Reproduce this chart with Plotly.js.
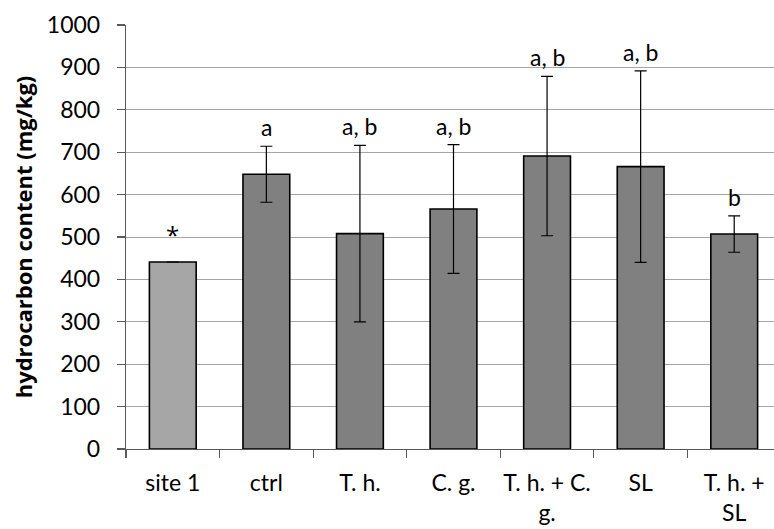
<!DOCTYPE html>
<html>
<head>
<meta charset="utf-8">
<script src="https://cdn.plot.ly/plotly-3.0.1.min.js"></script>
<style>
  html, body { margin: 0; padding: 0; background: #fff; overflow: hidden; }
  #chart { width: 782px; height: 529px; }
</style>
</head>
<body>
<div id="chart"></div>
<script>
// Treatment groups along the x axis
const categories = ["site 1", "ctrl", "T. h.", "C. g.", "T. h. + C.<br>g.", "SL", "T. h. +<br>SL"];
// Mean hydrocarbon content (mg/kg)
const meanValues = [441, 648, 508, 566, 691, 666, 507];
// Standard deviation shown as symmetric error bars (site 1 has none)
const errValues = [0, 66, 208, 152, 188, 226, 43];
// Significance letters above each bar
const groupLabels = ["*", "a", "a, b", "a, b", "a, b", "a, b", "b"];
const barColors = ["#a6a6a6", "#808080", "#808080", "#808080", "#808080", "#808080", "#808080"];

const fontFamily = "Lato, 'Open Sans', sans-serif";
const titleFamily = "'Open Sans', 'Noto Sans', sans-serif";
const textSize = 23;

const trace = {
  type: "bar",
  x: categories,
  y: meanValues,
  marker: { color: barColors, line: { color: "#000", width: 1.6 } },
  error_y: {
    type: "data",
    array: errValues,
    visible: true,
    color: "#000",
    thickness: 1.2,
    width: 6
  },
  hoverinfo: "none"
};

const annotations = categories.map((c, i) => ({
  x: c,
  y: meanValues[i] + errValues[i],
  text: groupLabels[i],
  showarrow: false,
  xanchor: "center",
  yanchor: "bottom",
  yshift: errValues[i] > 0 ? 3 : 9,
  font: {
    family: groupLabels[i] === "*" ? titleFamily : fontFamily,
    size: groupLabels[i] === "*" ? 24 : textSize,
    color: "#000"
  }
}));

const layout = {
  width: 782,
  height: 529,
  margin: { l: 126, r: 1, t: 25, b: 80 },
  paper_bgcolor: "#fff",
  plot_bgcolor: "#fff",
  bargap: 0.5,
  showlegend: false,
  font: { family: fontFamily, size: textSize, color: "#000" },
  xaxis: {
    type: "category",
    showline: true,
    linecolor: "#595959",
    linewidth: 1.2,
    ticks: "outside",
    tickson: "boundaries",
    ticklen: 8,
    tickcolor: "#595959",
    tickwidth: 1.2,
    ticklabelstandoff: 13,
    showgrid: false,
    tickangle: 0,
    tickfont: { family: fontFamily, size: textSize, color: "#000" }
  },
  yaxis: {
    range: [0, 1000],
    dtick: 100,
    showline: true,
    linecolor: "#595959",
    linewidth: 1.2,
    ticks: "outside",
    ticklen: 8,
    tickcolor: "#595959",
    tickwidth: 1.2,
    ticklabelstandoff: 12,
    showgrid: true,
    gridcolor: "#a6a6a6",
    gridwidth: 1,
    zeroline: false,
    tickfont: { family: fontFamily, size: textSize, color: "#000" },
    title: {
      text: "hydrocarbon content (mg/kg)",
      font: { family: titleFamily, size: 22, color: "#000", weight: "bold" },
      standoff: 8
    }
  },
  annotations: annotations
};

Plotly.newPlot("chart", [trace], layout, { staticPlot: true, displayModeBar: false });
</script>
</body>
</html>
